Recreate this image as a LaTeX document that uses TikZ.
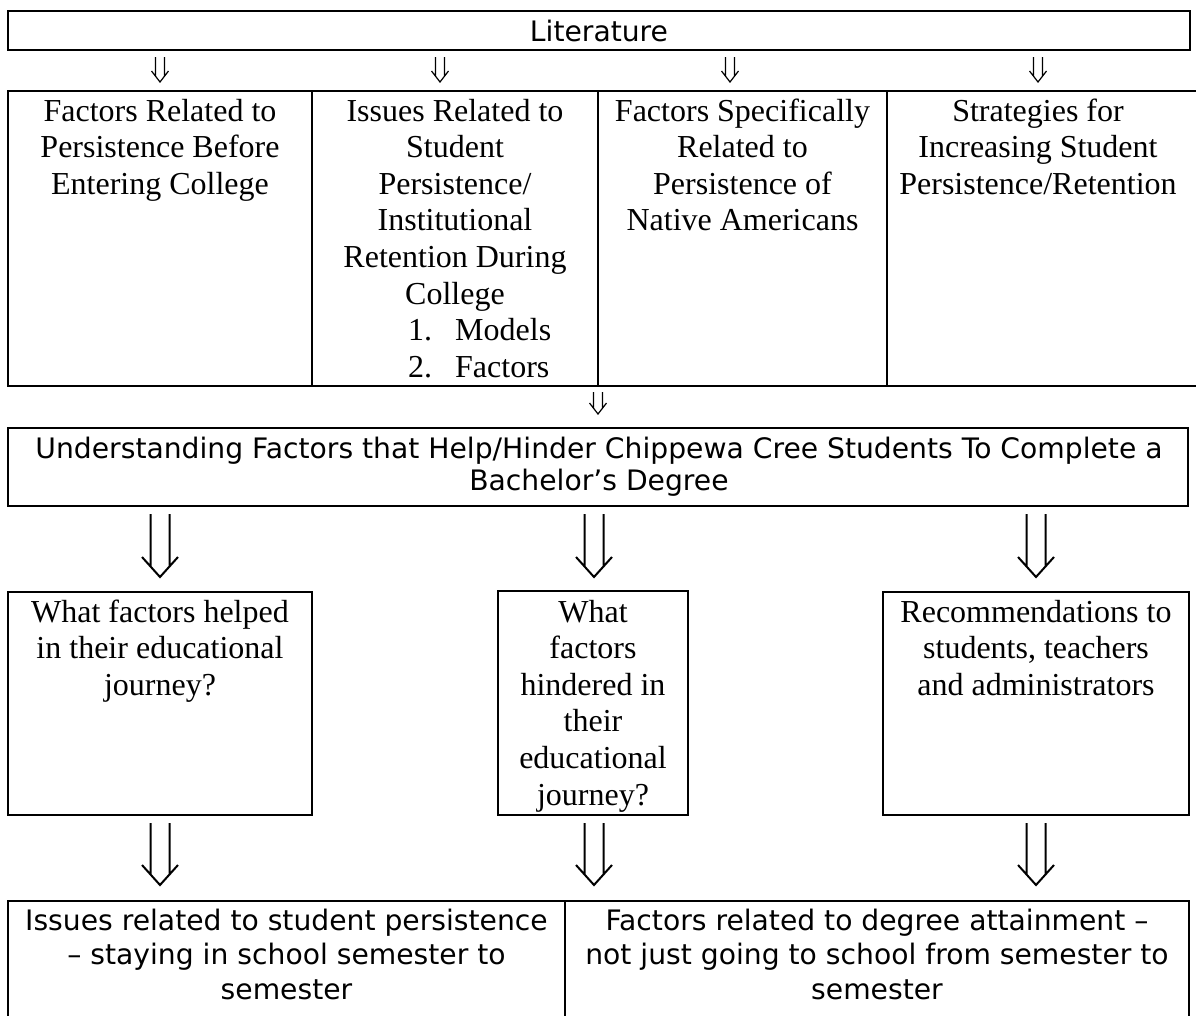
\documentclass[tikz,border=0pt]{standalone}
\usepackage{fontspec}
\setmainfont{Liberation Serif}
\newfontfamily\tahoma{DejaVu Sans}
\usetikzlibrary{calc}
\tikzset{
  boxed/.style={draw, line width=2pt, inner sep=0pt, outer sep=0pt},
  serif/.style={font=\fontsize{32}{36.6}\selectfont, inner sep=0pt, anchor=base},
  sans/.style={font=\tahoma\fontsize{28.2}{34}\selectfont, inner sep=0pt, anchor=base},
  thinarr/.style={line width=1.2pt},
  thickarr/.style={line width=2pt},
}
\newcommand\smallarr[2]{%
  \draw[thinarr] ($(#1)+(-4.5,0)$) -- ($(#2)+(-4.5,-6)$)
    ($(#1)+(4.5,0)$) -- ($(#2)+(4.5,-6)$)
    ($(#2)+(-8.5,-11)$) -- (#2) -- ($(#2)+(8.5,-11)$);}
\newcommand\bigarr[2]{%
  \draw[thickarr] ($(#1)+(-9.5,0)$) -- ($(#2)+(-9.5,-10)$)
    ($(#1)+(9.5,0)$) -- ($(#2)+(9.5,-10)$)
    ($(#2)+(-18,-20)$) -- (#2) -- ($(#2)+(18,-20)$);}
\begin{document}
\begin{tikzpicture}[x=1pt,y=-1pt]
\useasboundingbox[fill=white] (0,0) rectangle (1196,1015);
% boxes
\node[boxed, minimum width=1182pt, minimum height=39pt] (lit) at (599,30.5) {};
\node[boxed, minimum width=304pt, minimum height=295pt] (b1) at (160,238.5) {};
\node[boxed, minimum width=286pt, minimum height=295pt] (b2) at (455,238.5) {};
\node[boxed, minimum width=289pt, minimum height=295pt] (b3) at (742.5,238.5) {};
\node[boxed, minimum width=313pt, minimum height=295pt] (b4) at (1043.5,238.5) {};
\node[boxed, minimum width=1180pt, minimum height=78pt] (u) at (598,467) {};
\node[boxed, minimum width=304pt, minimum height=223pt] (m1) at (160,703.5) {};
\node[boxed, minimum width=190pt, minimum height=224pt] (m2) at (593,703) {};
\node[boxed, minimum width=306pt, minimum height=223pt] (m3) at (1036,703.5) {};
\node[boxed, minimum width=557pt, minimum height=130pt] (c1) at (286.5,966) {};
\node[boxed, minimum width=624pt, minimum height=130pt] (c2) at (877,966) {};
% texts
\node[sans] (tlit) at (599,41) {Literature};
\node[serif] (tb1) at (160,121) {\parbox[t]{300pt}{\centering Factors Related to\\Persistence Before\\Entering College}};
\node[serif] (tb2) at (455,121) {\parbox[t]{280pt}{\centering Issues Related to\\Student\\Persistence/\\Institutional\\Retention During\\College}};
\node[serif, anchor=base west] (l1n) at (408,340.6) {1.};
\node[serif, anchor=base west] (l1t) at (455,340.6) {Models};
\node[serif, anchor=base west] (l2n) at (408,377.2) {2.};
\node[serif, anchor=base west] (l2t) at (455,377.2) {Factors};
\node[serif] (tb3) at (742.5,121) {\parbox[t]{285pt}{\centering Factors Specifically\\Related to\\Persistence of\\Native Americans}};
\node[serif] (tb4) at (1038,121) {\parbox[t]{305pt}{\centering Strategies for\\Increasing Student\\Persistence/Retention}};
\node[sans, font=\tahoma\fontsize{28.2}{32}\selectfont] (tu) at (599,458) {\parbox[t]{1176pt}{\centering Understanding Factors that Help/Hinder Chippewa Cree Students To Complete a\\Bachelor’s Degree}};
\node[serif] (tm1) at (160,622) {\parbox[t]{300pt}{\centering What factors helped\\in their educational\\journey?}};
\node[serif] (tm2) at (593,622) {\parbox[t]{186pt}{\centering What\\factors\\hindered in\\their\\educational\\journey?}};
\node[serif] (tm3) at (1036,622) {\parbox[t]{300pt}{\centering Recommendations to\\students, teachers\\and administrators}};
\node[sans, font=\tahoma\fontsize{28.2}{34.5}\selectfont] (tc1) at (286.5,930) {\parbox[t]{555pt}{\centering Issues related to student persistence\\– staying in school semester to\\semester}};
\node[sans, font=\tahoma\fontsize{28.2}{34.5}\selectfont] (tc2) at (877,930) {\parbox[t]{620pt}{\centering Factors related to degree attainment –\\not just going to school from semester to\\semester}};
% small arrows
\coordinate (s1) at ($(b1.north)+(0,-34)$); \coordinate (e1) at ($(b1.north)+(0,-9)$);
\coordinate (s2) at ($(b2.north)+(-15,-34)$); \coordinate (e2) at ($(b2.north)+(-15,-9)$);
\coordinate (s3) at ($(b3.north)+(-12.5,-34)$); \coordinate (e3) at ($(b3.north)+(-12.5,-9)$);
\coordinate (s4) at ($(b4.north)+(-5.5,-34)$); \coordinate (e4) at ($(b4.north)+(-5.5,-9)$);
\coordinate (s5) at ($(b3.south west)+(0,6)$); \coordinate (e5) at ($(b3.south west)+(0,28)$);
\smallarr{s1}{e1}
\smallarr{s2}{e2}
\smallarr{s3}{e3}
\smallarr{s4}{e4}
\smallarr{s5}{e5}
% big arrows
\coordinate (g1) at ($(m1.north)+(0,-78)$); \coordinate (h1) at ($(m1.north)+(0,-15)$);
\coordinate (g2) at ($(m2.north)+(1,-77)$); \coordinate (h2) at ($(m2.north)+(1,-14)$);
\coordinate (g3) at ($(m3.north)+(0,-78)$); \coordinate (h3) at ($(m3.north)+(0,-15)$);
\coordinate (g4) at ($(m1.south)+(0,8)$); \coordinate (h4) at ($(m1.south)+(0,70)$);
\coordinate (g5) at ($(m2.south)+(1,8)$); \coordinate (h5) at ($(m2.south)+(1,70)$);
\coordinate (g6) at ($(m3.south)+(0,8)$); \coordinate (h6) at ($(m3.south)+(0,70)$);
\bigarr{g1}{h1}
\bigarr{g2}{h2}
\bigarr{g3}{h3}
\bigarr{g4}{h4}
\bigarr{g5}{h5}
\bigarr{g6}{h6}
\end{tikzpicture}
\end{document}
